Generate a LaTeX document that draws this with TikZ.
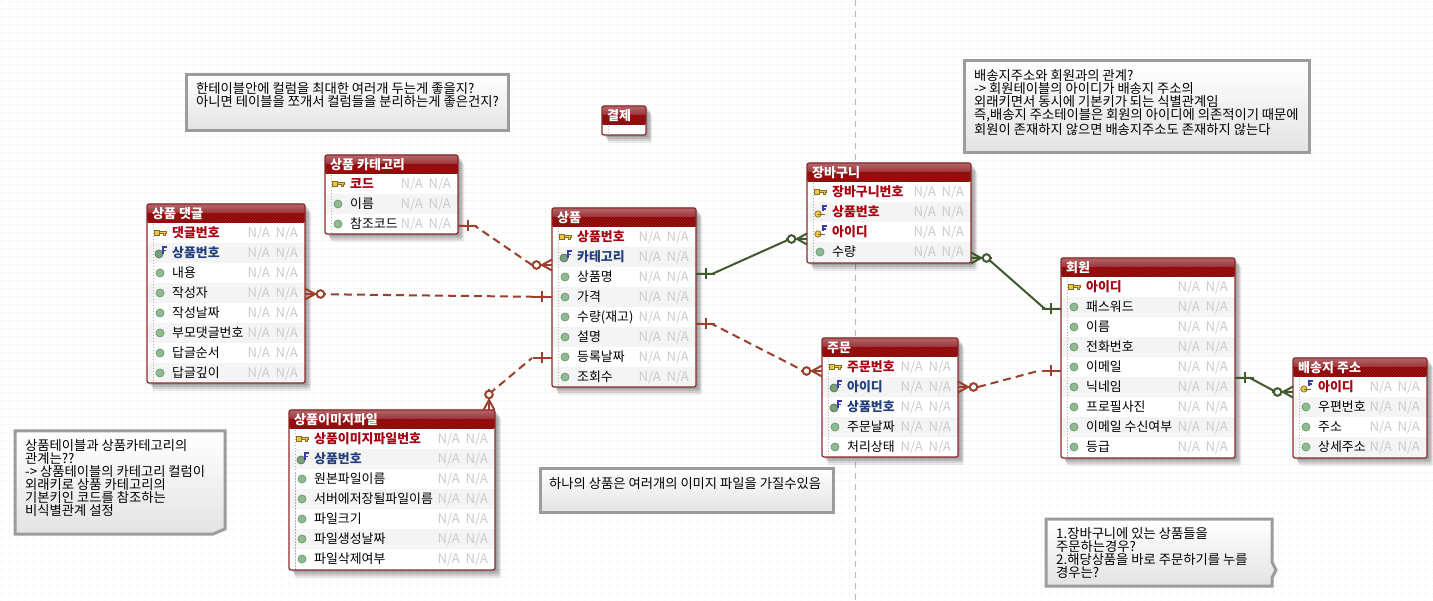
\documentclass[tikz,border=0pt]{standalone}
\usepackage{fontspec}
\setmainfont{Noto Sans CJK KR}
\usetikzlibrary{shadows, patterns, calc}

\definecolor{gridgray}{HTML}{F7F7F7}
\definecolor{rowgray}{HTML}{F4F4F4}
\definecolor{framered}{HTML}{8A2A2A}
\definecolor{headdark}{HTML}{8C0404}
\definecolor{headhatch}{HTML}{A02222}
\definecolor{glosstop}{HTML}{B4686C}
\definecolor{glossend}{HTML}{9C3238}
\definecolor{pkred}{HTML}{A80010}
\definecolor{fkblue}{HTML}{24407C}
\definecolor{relbrown}{HTML}{9A402C}
\definecolor{relgreen}{HTML}{40592F}
\definecolor{notegray}{HTML}{9C9C9C}
\definecolor{dotgreen}{HTML}{8FBB8F}
\definecolor{dotedge}{HTML}{6F9C76}
\definecolor{keygold}{HTML}{E8C84A}
\definecolor{keyedge}{HTML}{8A6D1A}
\definecolor{fkmark}{HTML}{3A3AA8}

\tikzset{
    tblbase/.style={rectangle, anchor=north west, inner sep=0pt, outer sep=0pt, fill=white, rounded corners=2pt,
        drop shadow={shadow xshift=6pt, shadow yshift=-8pt, opacity=.08, fill=black},
        drop shadow={shadow xshift=5pt, shadow yshift=-6pt, opacity=.10, fill=black},
        drop shadow={shadow xshift=4pt, shadow yshift=-4pt, opacity=.12, fill=black},
        drop shadow={shadow xshift=2pt, shadow yshift=-2pt, opacity=.12, fill=black}},
    tblframe/.style={rectangle, anchor=north west, inner sep=0pt, outer sep=0pt, draw=framered, line width=1.2pt, rounded corners=2pt},
    tblhead/.style={rectangle, anchor=north west, inner sep=0pt, outer sep=0pt, fill=headdark, rounded corners=2pt, minimum height=19pt},
    tblgloss/.style={rectangle, anchor=north west, inner sep=0pt, outer sep=0pt, top color=glosstop, bottom color=glossend, rounded corners=2pt, minimum height=9pt},
    tbltitle/.style={anchor=base west, inner sep=0pt, text=white, font=\fontsize{13}{14}\selectfont\bfseries},
    rowbox/.style={rectangle, anchor=north west, inner sep=0pt, outer sep=0pt, minimum height=20pt},
    rowlabel/.style={anchor=base west, inner sep=0pt, font=\fontsize{12.9}{14}\selectfont},
    rowna/.style={anchor=base east, inner sep=0pt, text=black!20, font=\fontsize{13.2}{14}\selectfont},
    rowpk/.style={font=\fontsize{12.9}{14}\selectfont\bfseries, text=pkred},
    rowpf/.style={font=\fontsize{12.9}{14}\selectfont\bfseries, text=pkred},
    rowfk/.style={font=\fontsize{12.9}{14}\selectfont\bfseries, text=fkblue},
    rowpl/.style={text=black},
    notebox/.style={rectangle, anchor=north west, inner sep=0pt, outer sep=0pt, draw=notegray, line width=3pt, top color=white, bottom color=black!11},
    noteline/.style={draw=notegray, line width=3pt, top color=white, bottom color=black!11},
    notetext/.style={anchor=north west, inner sep=0pt, align=left, font=\fontsize{13.3}{12}\selectfont},
    relline/.style={line width=2pt},
    reldash/.style={relline, draw=relbrown, dash pattern=on 8pt off 5pt},
    relsolid/.style={relline, draw=relgreen},
    markbrown/.style={draw=relbrown, line width=2pt},
    markgreen/.style={draw=relgreen, line width=2pt},
    pics/onebar/.style={code={
        \draw (0,0) -- (19,0);
        \draw (10,-5.5) -- (10,5.5);
    }},
    pics/manyopt/.style={code={
        \draw (0,-5.5) -- (10,0) -- (0,5.5);
        \draw (0,0) -- (21,0);
        \draw[fill=white] (15.5,0) circle (3.8);
    }},
    pics/iconpl/.style={code={
        \draw[draw=dotedge, fill=dotgreen, line width=.8pt] (0,0) circle (4);
    }},
    pics/iconpk/.style={code={
        \draw[draw=keyedge, fill=keygold, line width=.7pt] (-6,-2.8) rectangle (-1,2.8);
        \draw[draw=keyedge, fill=keygold, line width=.7pt] (-1,-1.2) -- (6.5,-1.2) -- (6.5,.6) -- (5,.6) -- (5,2.2) -- (3.2,2.2) -- (3.2,.6) -- (-1,.6) -- cycle;
    }},
    pics/iconfk/.style={code={
        \draw[draw=dotedge!80!black, fill=dotgreen!85!black, line width=.8pt] (-1,1) circle (4);
        \draw[draw=white, line width=3pt] (3,1) -- (3,-6);
        \draw[draw=fkmark, line width=1.6pt] (3,1) -- (3,-6) -- (7,-6);
        \draw[draw=fkmark, line width=1.6pt] (3,-2.5) -- (6,-2.5);
    }},
    pics/iconpf/.style={code={
        \draw[draw=keyedge, fill=keygold, line width=.7pt] (-2,2) circle (3.2);
        \draw[draw=keyedge, line width=.8pt] (-2,2) -- (5,2);
        \draw[draw=fkmark, line width=1.6pt] (3,-1) -- (3,-6) -- (7,-6);
        \draw[draw=fkmark, line width=1.6pt] (3,-3) -- (6,-3);
    }},
}

% name, left, top, width, height, title, rows
\newcommand{\erdtable}[7]{
    \node[tblbase, minimum width=#4pt, minimum height=#5pt] (#1-base) at (#2,#3) {};
    \node[tblhead, minimum width=#4pt] (#1-head) at (#2,#3) {};
    \path[pattern=north east lines, pattern color=headhatch] ($(#1-head.north west)+(0,9)$) rectangle (#1-head.south east);
    \node[tblgloss, minimum width=#4pt] (#1-gloss) at (#2,#3) {};
    \foreach \kind/\txt [count=\i] in {#7} {
        \pgfmathsetmacro{\rowy}{#3+19+20*(\i-1)}
        \pgfmathsetmacro{\rowb}{\rowy+14.6}
        \pgfmathsetmacro{\rowc}{\rowy+10}
        \ifodd\i\def\rowfill{white}\else\def\rowfill{rowgray}\fi
        \node[rowbox, fill=\rowfill, minimum width=#4pt] (#1-r\i) at (#2,\rowy) {};
        \pic at ($(#2,\rowc)+(13,0)$) {icon\kind};
        \node[rowlabel, row\kind] (#1-r\i-name) at ($(#2,\rowb)+(25,0)$) {\txt};
        \node[rowna] (#1-r\i-na) at ($(#2,\rowb)+(#4-35,0)$) {N/A};
        \node[rowna] (#1-r\i-nb) at ($(#2,\rowb)+(#4-7,0)$) {N/A};
    }
    \draw[black!30, line width=.8pt, dash pattern=on 1.5pt off 1.5pt] ($(#1-head.south west)+(6,1)$) -- ($(#2,#3)+(6,#5)$);
    \node[tbltitle] (#1-title) at ($(#2,#3)+(5,14.5)$) {#6};
    \node[tblframe, minimum width=#4pt, minimum height=#5pt] (#1) at (#2,#3) {};
}

\begin{document}
\begin{tikzpicture}[x=1pt, y=-1pt]
    \useasboundingbox (0,0) rectangle (1433,601);
    \fill[white] (0,0) rectangle (1433,601);

    % background grid
    \begin{scope}[shift={(1,1)}]
        \draw[gridgray, line width=1pt, step=8pt] (0,0) grid (1432,600);
    \end{scope}
    \draw[black!28, line width=1pt, dash pattern=on 6pt off 5pt] (855,0) -- (855,601);

    % tables
    \erdtable{payment}{602}{106}{44}{29}{결제}{}
    \erdtable{category}{325}{155}{133}{79}{상품 카테고리}{pk/코드, pl/이름, pl/참조코드}
    \erdtable{reply}{147}{204}{158}{179}{상품 댓글}{pk/댓글번호, fk/상품번호, pl/내용, pl/작성자, pl/작성날짜, pl/부모댓글번호, pl/답글순서, pl/답글깊이}
    \erdtable{product}{552}{208}{144}{179}{상품}{pk/상품번호, fk/카테고리, pl/상품명, pl/가격, pl/수량(재고), pl/설명, pl/등록날짜, pl/조회수}
    \erdtable{image}{289}{410}{206}{160}{상품이미지파일}{pk/상품이미지파일번호, fk/상품번호, pl/원본파일이름, pl/서버에저장될파일이름, pl/파일크기, pl/파일생성날짜, pl/파일삭제여부}
    \erdtable{cart}{807}{163}{164}{100}{장바구니}{pk/장바구니번호, pf/상품번호, pf/아이디, pl/수량}
    \erdtable{order}{822}{338}{136}{119}{주문}{pk/주문번호, fk/아이디, fk/상품번호, pl/주문날짜, pl/처리상태}
    \erdtable{member}{1061}{258}{174}{200}{회원}{pk/아이디, pl/패스워드, pl/이름, pl/전화번호, pl/이메일, pl/닉네임, pl/프로필사진, pl/이메일 수신여부, pl/등급}
    \erdtable{address}{1293}{358}{134}{100}{배송지 주소}{pf/아이디, pl/우편번호, pl/주소, pl/상세주소}

    % connectors
    \draw[reldash] ([yshift=-2pt]category-r3.east) -- ++(17,0) -- ([shift={(-20pt,-8pt)}]product-r2.west);
    \pic[markbrown] at ([yshift=-2pt]category-r3.east) {onebar};
    \pic[markbrown, rotate=180] at ([yshift=-8pt]product-r2.west) {manyopt};

    \draw[reldash] ([yshift=-1pt]reply-r4.east) -- (product-r4.west);
    \pic[markbrown] at ([yshift=-1pt]reply-r4.east) {manyopt};
    \pic[markbrown, rotate=180] at (product-r4.west) {onebar};

    \draw[reldash] ([xshift=-6pt]image.north east) ++(0,-16) -- ([shift={(-20pt,-1pt)}]product-r7.west);
    \pic[markbrown, rotate=90] at ([xshift=-6pt]image.north east) {manyopt};
    \pic[markbrown, rotate=180] at ([yshift=-1pt]product-r7.west) {onebar};

    \draw[relsolid] ([yshift=3pt]product-r3.east) -- ++(16,0) -- ([shift={(-17pt,-7pt)}]cart-r3.west) -- ([yshift=-7pt]cart-r3.west);
    \pic[markgreen] at ([yshift=3pt]product-r3.east) {onebar};
    \pic[markgreen, rotate=180] at ([yshift=-7pt]cart-r3.west) {manyopt};

    \draw[relsolid] ([yshift=-6pt]cart-r4.east) -- ++(16,0) -- ([shift={(-16pt,-2pt)}]member-r2.west) -- ([yshift=-2pt]member-r2.west);
    \pic[markgreen] at ([yshift=-6pt]cart-r4.east) {manyopt};
    \pic[markgreen, rotate=180] at ([yshift=-2pt]member-r2.west) {onebar};

    \draw[reldash] ([yshift=-7pt]product-r5.east) -- ++(16,0) -- ([shift={(-18pt,-4pt)}]order-r1.west);
    \pic[markbrown] at ([yshift=-7pt]product-r5.east) {onebar};
    \pic[markbrown, rotate=180] at ([yshift=-4pt]order-r1.west) {manyopt};

    \draw[reldash] (order-r2.east) ++(20,0) -- ([shift={(-23pt,-4pt)}]member-r5.west);
    \pic[markbrown] at (order-r2.east) {manyopt};
    \pic[markbrown, rotate=180] at ([yshift=-4pt]member-r5.west) {onebar};

    \draw[relsolid] ([yshift=-11pt]member-r5.east) -- ++(15,0) -- ([shift={(-17pt,-5pt)}]address-r1.west) -- ([yshift=-5pt]address-r1.west);
    \pic[markgreen] at ([yshift=-11pt]member-r5.east) {onebar};
    \pic[markgreen, rotate=180] at ([yshift=-5pt]address-r1.west) {manyopt};

    % notes
    \node[notebox, minimum width=322pt, minimum height=56pt] (note-split) at (186,75) {};
    \node[notetext] (note-split-text) at (196,82) {한테이블안에 컬럼을 최대한 여러개 두는게 좋을지?\\아니면 테이블을 쪼개서 컬럼들을 분리하는게 좋은건지?};

    \node[notebox, minimum width=345pt, minimum height=92pt] (note-addr) at (964,61) {};
    \node[notetext] (note-addr-text) at (974,69.5) {배송지주소와 회원과의 관계?\\-> 회원테이블의 아이디가 배송지 주소의\\외래키면서 동시에 기본키가 되는 식별관계임\\즉,배송지 주소테이블은 회원의 아이디에 의존적이기 때문에\\회원이 존재하지 않으면 배송지주소도 존재하지 않는다};

    \draw[noteline] (15,431) -- (225,431) -- (225,529) -- (213,534) -- (15,534) -- cycle;
    \node[notetext] (note-cat-text) at (25,439) {상품테이블과 상품카테고리의\\관계는??\\-> 상품테이블의 카테고리 컬럼이\\외래키로 상품 카테고리의\\기본키인 코드를 참조하는\\비식별관계 설정};

    \node[notebox, minimum width=293pt, minimum height=44pt] (note-image) at (540,468.5) {};
    \node[notetext] (note-image-text) at (549,477.5) {하나의 상품은 여러개의 이미지 파일을 가질수있음};

    \draw[noteline] (1046,519) -- (1272,519) -- (1272,562) -- (1276,570) -- (1272,578) -- (1272,586) -- (1046,586) -- cycle;
    \node[notetext] (note-order-text) at (1056,527) {1.장바구니에 있는 상품들을\\주문하는경우?\\2.해당상품을 바로 주문하기를 누를\\경우는?};
\end{tikzpicture}
\end{document}
